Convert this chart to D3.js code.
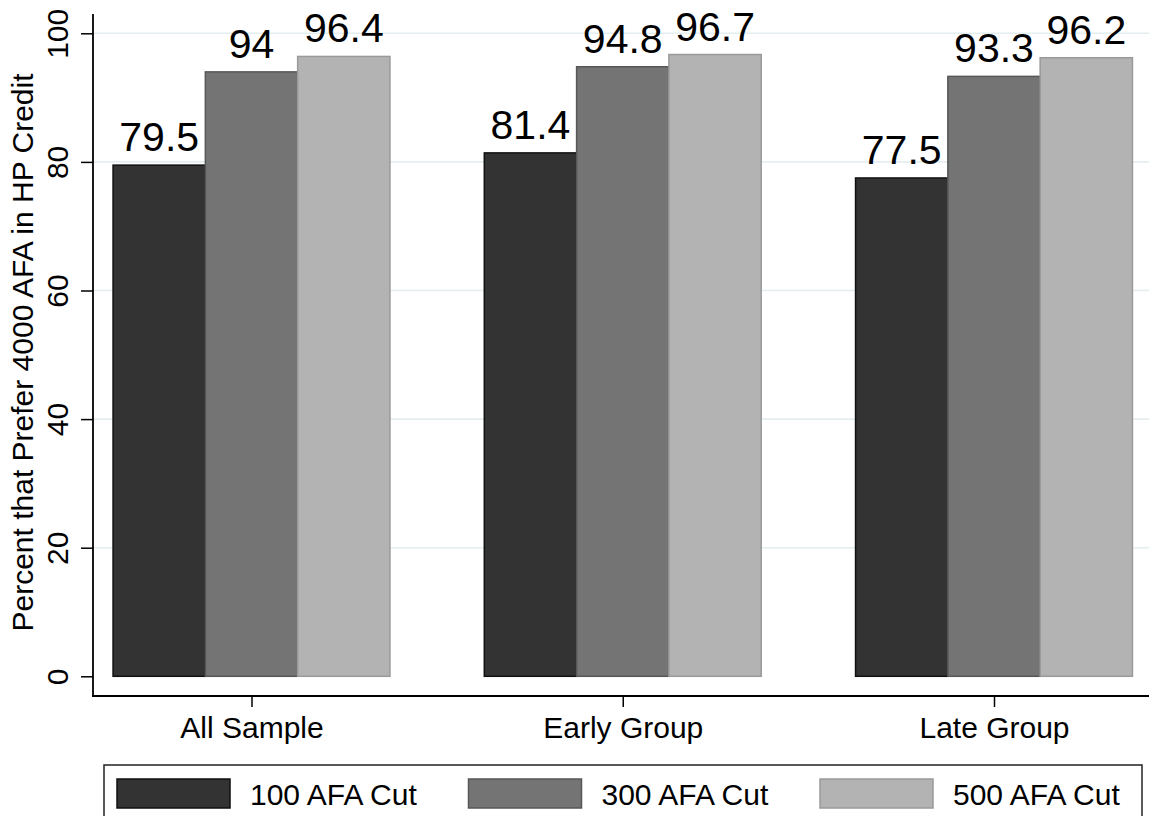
<!DOCTYPE html>
<html><head><meta charset="utf-8">
<script src="https://cdn.jsdelivr.net/npm/d3@7"></script>
<style>body{margin:0;background:#fff}svg{display:block}text{font-family:"Liberation Sans",Arial,Helvetica,sans-serif;fill:#000}</style>
</head><body>
<script>
const groups = ["All Sample", "Early Group", "Late Group"];
const series = ["100 AFA Cut", "300 AFA Cut", "500 AFA Cut"];
const values = [
  [79.5, 94, 96.4],
  [81.4, 94.8, 96.7],
  [77.5, 93.3, 96.2]
];
const yTicks = [0, 20, 40, 60, 80, 100];
const fills = ["#333333", "#747474", "#b3b3b3"];
const strokes = ["#111111", "#575757", "#9a9a9a"];

const W = 1149, H = 816;
const svg = d3.select("body").append("svg").attr("width", W).attr("height", H);

const y = d3.scaleLinear().domain([0, 100]).range([676.3, 33.3]);
const x0 = d3.scalePoint().domain(groups).range([251.5, 994]);
const bw = 92.3;
const x1 = d3.scaleBand().domain(series).range([-1.5 * bw, 1.5 * bw]);

// gridlines
svg.append("g").selectAll("line").data(yTicks.filter(d => d > 0)).join("line")
  .attr("x1", 94).attr("x2", W).attr("y1", d => y(d)).attr("y2", d => y(d))
  .attr("stroke", "#e4eef0").attr("stroke-width", 1.6);

// bars
const g = svg.append("g").selectAll("g").data(groups).join("g")
  .attr("transform", d => `translate(${x0(d)},0)`);
g.each(function(grp, gi) {
  const sel = d3.select(this);
  values[gi].forEach((v, si) => {
    sel.append("rect")
      .attr("x", x1(series[si])).attr("width", x1.bandwidth())
      .attr("y", y(v)).attr("height", y(0) - y(v))
      .attr("fill", fills[si]).attr("stroke", strokes[si]).attr("stroke-width", 1.5);
    sel.append("text")
      .attr("x", x1(series[si]) + x1.bandwidth() / 2).attr("y", y(v) - 14)
      .attr("text-anchor", "middle").attr("font-size", 41)
      .text(v);
  });
});

// y axis
const yAxis = d3.axisLeft(y).tickValues(yTicks).tickSize(12).tickPadding(12);
const ya = svg.append("g").attr("transform", "translate(93,0)").call(yAxis);
ya.select(".domain").remove();
ya.selectAll(".tick line").attr("stroke", "#000").attr("stroke-width", 1.5);
ya.selectAll(".tick text").attr("font-size", 30).attr("font-family", '"Liberation Sans",Arial,sans-serif')
  .attr("fill", "#000")
  .attr("transform", "rotate(-90)")
  .attr("x", 0).attr("y", -25).attr("dy", 0)
  .attr("text-anchor", "middle");
svg.append("line").attr("x1", 93).attr("x2", 93).attr("y1", 14).attr("y2", 696.5)
  .attr("stroke", "#000").attr("stroke-width", 1.8);

// x axis
const xAxis = d3.axisBottom(x0).tickSize(11).tickPadding(10);
const xa = svg.append("g").attr("transform", "translate(0,696)").call(xAxis);
xa.select(".domain").remove();
xa.selectAll(".tick line").attr("stroke", "#000").attr("stroke-width", 1.5);
xa.selectAll(".tick text").attr("font-size", 30).attr("font-family", '"Liberation Sans",Arial,sans-serif')
  .attr("fill", "#000").attr("y", 0).attr("dy", 0).attr("transform", "translate(0,42)");
svg.append("line").attr("x1", 92).attr("x2", W).attr("y1", 696).attr("y2", 696)
  .attr("stroke", "#000").attr("stroke-width", 1.8);

// y title
svg.append("text").attr("transform", "translate(33,352.5) rotate(-90)")
  .attr("text-anchor", "middle").attr("font-size", 30)
  .text("Percent that Prefer 4000 AFA in HP Credit");

// legend
svg.append("rect").attr("x", 104).attr("y", 765).attr("width", 1038).attr("height", 70)
  .attr("fill", "#fff").attr("stroke", "#222").attr("stroke-width", 1.5);
const lx = d3.scalePoint().domain(series).range([117, 820]);
const lg = svg.append("g").selectAll("g").data(series).join("g")
  .attr("transform", d => `translate(${lx(d)},0)`);
lg.append("rect").attr("x", 0).attr("y", 779).attr("width", 113).attr("height", 29)
  .attr("fill", (d, i) => fills[i]).attr("stroke", (d, i) => strokes[i]).attr("stroke-width", 1.5);
lg.append("text").attr("x", 133).attr("y", 805).attr("font-size", 30).text(d => d);
</script>
</body></html>
